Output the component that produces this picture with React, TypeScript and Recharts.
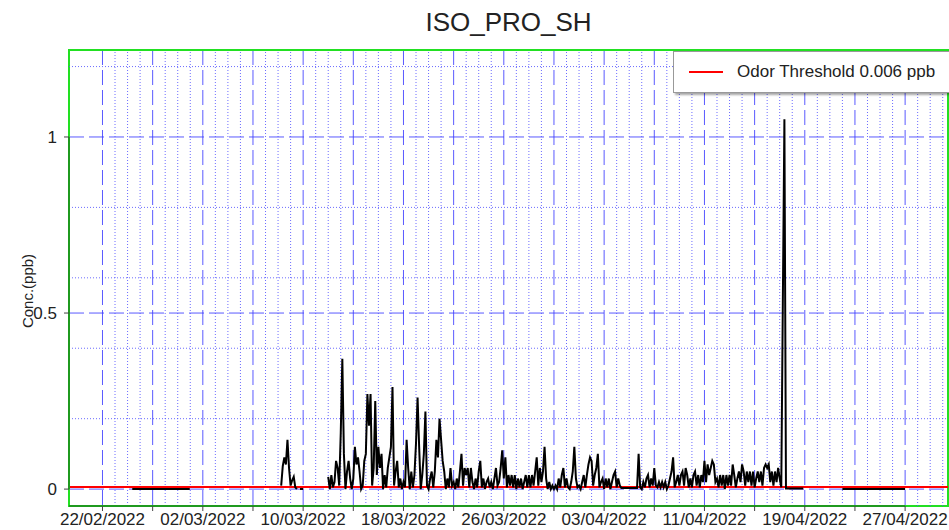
import {
  CartesianGrid,
  Line,
  LineChart,
  ReferenceArea,
  ReferenceLine,
  XAxis,
  YAxis,
} from "recharts";

const FONT = '"Liberation Sans", Arial, sans-serif';
const DAY = 86400000;
const T0 = Date.UTC(2022, 1, 22);

const THRESHOLD = 0.006;

// each run: first reading (UTC), spacing in hours, concentrations in ppb
const febRun = { start: "2022-02-24T09:00Z", step: 110, values: [0, 0] };
const mar08Run = {
  start: "2022-03-08T06:00Z",
  step: 3,
  values: [0.01, 0.065, 0.09, 0.07, 0.14, 0.06, 0.01, 0.025, 0.035, 0.005, 0],
};
const mar09Run = { start: "2022-03-09T18:00Z", step: 6, values: [0, 0] };
const mainRun = {
  start: "2022-03-12T00:00Z",
  step: 3,
  values: [
    0.035, 0.0, 0.04, 0.005, 0.02, 0.08, 0.06, 0.01, // 12/03
    0.16, 0.37, 0.1, 0.0, 0.05, 0.08, 0.03, 0.0,
    0.03, 0.12, 0.07, 0.09, 0.05, 0.0, 0.01, 0.08,
    0.1, 0.27, 0.18, 0.27, 0.01, 0.06, 0.25, 0.04, // 15/03
    0.12, 0.06, 0.1, 0.0, 0.04, 0.005, 0.06, 0.09,
    0.12, 0.29, 0.01, 0.05, 0.08, 0.005, 0.03, 0.0,
    0.02, 0.005, 0.14, 0.06, 0.0, 0.05, 0.005, 0.04, // 18/03
    0.13, 0.26, 0.12, 0.0, 0.04, 0.1, 0.22, 0.01,
    0.0, 0.03, 0.05, 0.005, 0.05, 0.14, 0.09, 0.2,
    0.14, 0.08, 0.05, 0.0, 0.03, 0.005, 0.06, 0.01, // 21/03
    0.02, 0.0, 0.03, 0.005, 0.05, 0.1, 0.01, 0.06,
    0.04, 0.06, 0.005, 0.06, 0.02, 0.0, 0.03, 0.005,
    0.05, 0.08, 0.005, 0.03, 0.0, 0.02, 0.03, 0.005, // 24/03
    0.02, 0.0, 0.03, 0.06, 0.01, 0.02, 0.06, 0.11,
    0.03, 0.09, 0.005, 0.04, 0.01, 0.04, 0.005, 0.04,
    0.0, 0.03, 0.005, 0.03, 0.0, 0.02, 0.04, 0.005, // 27/03
    0.04, 0.005, 0.04, 0.01, 0.05, 0.09, 0.01, 0.06,
    0.02, 0.05, 0.12, 0.03, 0.0, 0.02, 0.0, 0.01,
    0.0, 0.01, 0.0, 0.03, 0.005, 0.04, 0.06, 0.005, // 30/03
    0.03, 0.005, 0.0, 0.02, 0.05, 0.12, 0.03, 0.005,
    0.01, 0.0, 0.02, 0.04, 0.005, 0.04, 0.07, 0.09,
    0.08, 0.01, 0.04, 0.06, 0.1, 0.005, 0.02, 0.03, // 02/04
    0.0, 0.03, 0.005, 0.03, 0.0, 0.02, 0.04, 0.05,
    0.005, 0.03, 0.01, 0.003, 0.003, 0.003, 0.003, 0.003,
    0.003, 0.003, 0.003, 0.003, 0.003, 0.003, 0.1, 0.005, // 05/04
    0.0, 0.02, 0.005, 0.03, 0.04, 0.005, 0.03, 0.01,
    0.06, 0.01, 0.005, 0.02, 0.005, 0.02, 0.005, 0.02,
    0.0, 0.01, 0.03, 0.05, 0.09, 0.005, 0.02, 0.04, // 08/04
    0.01, 0.04, 0.05, 0.01, 0.06, 0.04, 0.005, 0.03,
    0.005, 0.04, 0.05, 0.01, 0.04, 0.005, 0.04, 0.02,
    0.08, 0.02, 0.07, 0.04, 0.06, 0.08, 0.07, 0.02, // 11/04
    0.03, 0.005, 0.04, 0.01, 0.04, 0.0, 0.04, 0.01,
    0.04, 0.01, 0.07, 0.04, 0.005, 0.03, 0.05, 0.02,
    0.07, 0.05, 0.01, 0.05, 0.02, 0.05, 0.01, 0.05, // 14/04
    0.005, 0.03, 0.05, 0.02, 0.05, 0.01, 0.06, 0.07,
    0.06, 0.07, 0.02, 0.05, 0.01, 0.05, 0.02, 0.06,
    0.03, 0.005, 0.53, 1.05, 0.002, 0.002, 0.002, 0.002, // 17/04
    0.002, 0.002, 0.002, 0.002, 0.002, 0.002, 0.002, 0.002,
  ],
};
const aprRun = { start: "2022-04-22T00:00Z", step: 120, values: [0, 0] };

const runs = [febRun, mar08Run, mar09Run, mainRun, aprRun];

// x is days since 22/02/2022, a null row breaks the line between runs
const data: { day: number; conc: number | null }[] = [];
runs.forEach((r) => {
  const d0 = (Date.parse(r.start) - T0) / DAY;
  r.values.forEach((v, i) => data.push({ day: d0 + (i * r.step) / 24, conc: v }));
  data.push({ day: data[data.length - 1].day + 0.01, conc: null });
});

const X_MIN = -2.67;
const X_MAX = 67.42;
const Y_MIN = -0.048;
const Y_MAX = 1.247;

const xTicks = [0, 4, 8, 12, 16, 20, 24, 28, 32, 36, 40, 44, 48, 52, 56, 60, 64];
const xMinor: number[] = [];
for (let d = 1; d <= 67; d++) if (d % 4 !== 0) xMinor.push(d);
const yTicks = [0, 0.5, 1];
const yMinor = [0.2, 0.4, 0.6, 0.8, 1.2];

const fmtDate = (d: number) => {
  if (d % 8 !== 0) return "";
  const dt = new Date(T0 + d * DAY);
  const dd = String(dt.getUTCDate()).padStart(2, "0");
  const mm = String(dt.getUTCMonth() + 1).padStart(2, "0");
  return `${dd}/${mm}/${dt.getUTCFullYear()}`;
};

export default function App() {
  return (
    <div
      style={{
        position: "absolute",
        left: 0,
        top: 0,
        width: 949,
        height: 530,
        fontFamily: FONT,
        background: "#fff",
      }}
    >
      <div
        style={{
          position: "absolute",
          left: 69,
          width: 879,
          top: 9,
          textAlign: "center",
          fontSize: 26,
          lineHeight: "26px",
          color: "#222",
        }}
      >
        ISO_PRO_SH
      </div>
      <div
        style={{
          position: "absolute",
          left: 27,
          top: 291,
          transform: "translate(-50%, -50%) rotate(-90deg)",
          fontSize: 15,
          whiteSpace: "nowrap",
          color: "#222",
        }}
      >
        Conc.(ppb)
      </div>

      <LineChart
        width={949}
        height={530}
        data={data}
        margin={{ top: 50, right: 1, bottom: 0, left: 0 }}
      >
        <XAxis
          dataKey="day"
          type="number"
          domain={[X_MIN, X_MAX]}
          ticks={xTicks}
          tickFormatter={fmtDate}
          interval={0}
          height={24}
          axisLine={false}
          tickLine={{ stroke: "#444" }}
          tickSize={5}
          tickMargin={2}
          tick={{ fontSize: 17, fill: "#222", fontFamily: FONT }}
        />
        <YAxis
          type="number"
          domain={[Y_MIN, Y_MAX]}
          ticks={yTicks}
          width={69}
          axisLine={false}
          tickLine={{ stroke: "#444" }}
          tickSize={5}
          tickMargin={7}
          tick={{ fontSize: 17, fill: "#222", fontFamily: FONT }}
        />
        <CartesianGrid stroke="#3d3dff" strokeOpacity={0.85} strokeDasharray="15 5" />
        {xMinor.map((d) => (
          <ReferenceLine
            key={"vx" + d}
            x={d}
            stroke="#5252ff"
            strokeOpacity={0.85}
            strokeDasharray="1 2"
          />
        ))}
        {yMinor.map((v) => (
          <ReferenceLine
            key={"hy" + v}
            y={v}
            stroke="#5252ff"
            strokeOpacity={0.85}
            strokeDasharray="1 2"
          />
        ))}
        <ReferenceLine y={THRESHOLD} stroke="#ff0000" strokeWidth={2} />
        <Line
          dataKey="conc"
          type="linear"
          stroke="#000"
          strokeWidth={2}
          dot={false}
          connectNulls={false}
          isAnimationActive={false}
        />
        <ReferenceArea
          x1={X_MIN}
          x2={X_MAX}
          y1={Y_MIN}
          y2={Y_MAX}
          fill="none"
          stroke="#22e022"
          strokeWidth={2}
        />
        <ReferenceLine
          segment={[
            { x: X_MIN, y: Y_MIN },
            { x: 64, y: Y_MIN },
          ]}
          stroke="#1f9a1f"
          strokeWidth={2}
        />
        <ReferenceLine
          segment={[
            { x: X_MIN, y: 0 },
            { x: X_MIN, y: 1 },
          ]}
          stroke="#1f9a1f"
          strokeWidth={2}
        />
      </LineChart>

      <div
        style={{
          position: "absolute",
          left: 673,
          top: 51,
          width: 280,
          height: 40,
          background: "#fff",
          border: "1px solid #999",
          boxShadow: "2px 2px 2px rgba(0,0,0,0.35)",
          display: "flex",
          alignItems: "center",
          fontSize: 17,
          color: "#222",
        }}
      >
        <span
          style={{
            display: "inline-block",
            width: 34,
            height: 2,
            background: "#ff0000",
            marginLeft: 15,
            marginRight: 14,
          }}
        />
        Odor Threshold 0.006 ppb
      </div>
    </div>
  );
}
